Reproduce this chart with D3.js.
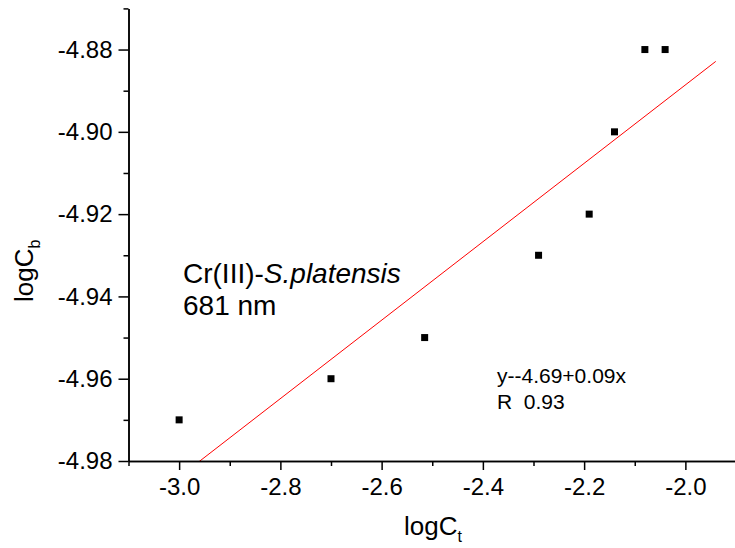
<!DOCTYPE html>
<html>
<head>
<meta charset="utf-8">
<script src="https://cdn.jsdelivr.net/npm/d3@7"></script>
<style>
  body { margin: 0; background: #fff; }
  text { font-family: "Liberation Sans", Arial, sans-serif; fill: #000; }
</style>
</head>
<body>
<div id="chart"></div>
<script>
// data
var logCt = [-3.0, -2.70, -2.515, -2.29, -2.19, -2.14, -2.08, -2.04]
var logCb = [-4.97, -4.96, -4.95, -4.93, -4.92, -4.90, -4.88, -4.88]

// linear fit drawn in red
var fitIntercept = -4.698
var fitSlope = 0.0953
var fitX = [-3.05, -1.94]

var xTicks = [-3.0, -2.8, -2.6, -2.4, -2.2, -2.0]
var xMinor = [-3.1, -2.9, -2.7, -2.5, -2.3, -2.1, -1.9]
var yTicks = [-4.98, -4.96, -4.94, -4.92, -4.90, -4.88]
var yMinor = [-4.97, -4.95, -4.93, -4.91, -4.89, -4.87]

var width = 735, height = 548

var x = d3.scaleLinear().domain([-3.1, -1.9]).range([128.5, 736])
var y = d3.scaleLinear().domain([-4.98, -4.87]).range([461, 8.4])

var svg = d3.select("#chart")
    .append("svg")
    .attr("width", width)
    .attr("height", height)

svg.append("defs").append("clipPath")
    .attr("id", "plot")
    .append("rect")
    .attr("x", x.range()[0])
    .attr("y", y.range()[1])
    .attr("width", x.range()[1] - x.range()[0])
    .attr("height", y.range()[0] - y.range()[1])

// fit line
var line = d3.line()
    .x(d => x(d))
    .y(d => y(fitIntercept + fitSlope * d))

svg.append("path")
    .datum(fitX)
    .attr("clip-path", "url(#plot)")
    .attr("d", line)
    .attr("fill", "none")
    .attr("stroke", "#ff0000")
    .attr("stroke-width", 1)

// points
svg.selectAll(".pt")
    .data(logCt)
    .enter().append("rect")
    .attr("class", "pt")
    .attr("x", (d) => x(d) - 3.5)
    .attr("y", (d, i) => y(logCb[i]) - 3.5)
    .attr("width", 7)
    .attr("height", 7)
    .attr("fill", "#000")

// axes
function styleAxis(g) {
    g.selectAll("path, line").attr("stroke", "#000").attr("stroke-width", 1.5)
    g.selectAll("text")
        .style("font-family", "'Liberation Sans', Arial, sans-serif")
        .style("font-size", "24px")
        .attr("fill", "#000")
}

svg.append("g")
    .attr("transform", "translate(0," + y.range()[0] + ")")
    .call(d3.axisBottom(x).tickValues(xMinor).tickSize(5).tickSizeOuter(0).tickFormat(""))
    .call(styleAxis)

svg.append("g")
    .attr("transform", "translate(0," + y.range()[0] + ")")
    .call(d3.axisBottom(x).tickValues(xTicks).tickSize(9).tickPadding(8).tickSizeOuter(0)
        .tickFormat(d => d.toFixed(1)))
    .call(styleAxis)

svg.append("g")
    .attr("transform", "translate(" + x.range()[0] + ",0)")
    .call(d3.axisLeft(y).tickValues(yMinor).tickSize(5).tickSizeOuter(0).tickFormat(""))
    .call(styleAxis)

svg.append("g")
    .attr("transform", "translate(" + x.range()[0] + ",0)")
    .call(d3.axisLeft(y).tickValues(yTicks).tickSize(10).tickPadding(6).tickSizeOuter(0)
        .tickFormat(d => d.toFixed(2)))
    .call(styleAxis)

// axis titles
var xt = svg.append("text")
    .attr("x", 404)
    .attr("y", 535)
    .style("font-size", "26px")
xt.append("tspan").text("logC")
xt.append("tspan").attr("dy", 7).style("font-size", "16px").text("t")

var yt = svg.append("text")
    .attr("transform", "translate(33,302) rotate(-90)")
    .style("font-size", "26px")
yt.append("tspan").text("logC")
yt.append("tspan").attr("dy", 7).style("font-size", "16px").text("b")

// annotations
var a1 = svg.append("text")
    .attr("x", 183)
    .attr("y", 283)
    .style("font-size", "28px")
a1.append("tspan").text("Cr(III)-")
a1.append("tspan").style("font-style", "italic").text("S.platensis")

svg.append("text")
    .attr("x", 183)
    .attr("y", 315)
    .style("font-size", "28px")
    .text("681 nm")

svg.append("text")
    .attr("x", 497)
    .attr("y", 383)
    .style("font-size", "21px")
    .text("y--4.69+0.09x")

svg.append("text")
    .attr("x", 497)
    .attr("y", 409)
    .style("font-size", "21px")
    .style("white-space", "pre")
    .text("R  0.93")
</script>
</body>
</html>
